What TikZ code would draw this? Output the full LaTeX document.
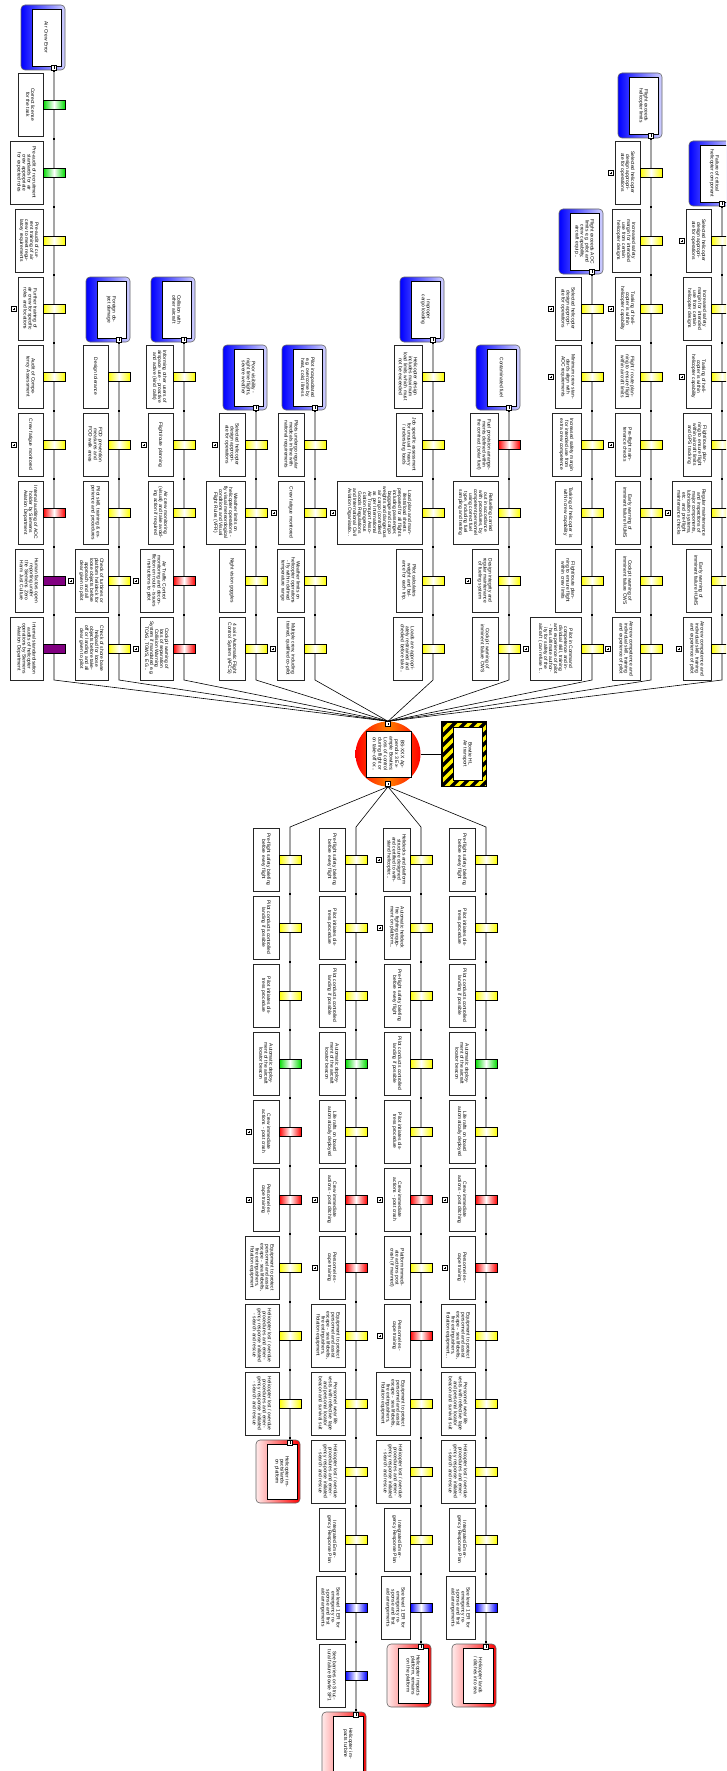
\documentclass[tikz,border=0pt]{standalone}
\usepackage{fontspec}
\setmainfont{Liberation Sans}
\pgfdeclarelayer{bg}
\pgfsetlayers{bg,main}
\definecolor{pur}{RGB}{128,0,128}
\definecolor{grn}{RGB}{0,220,0}
\newcommand{\tf}{\fontsize{4.9}{5}\selectfont}
\tikzset{
  bbox/.style={draw=black!85, fill=white, line width=0.6pt, rotate=-90, minimum width=63pt, text width=55pt, align=center, inner sep=1pt, font=\tf},
  barbase/.style={draw=black, line width=0.5pt, minimum width=22pt, minimum height=9pt, inner sep=0pt},
  barY/.style={barbase, left color=yellow, right color=yellow, middle color=white},
  barG/.style={barbase, left color=grn, right color=grn, middle color=white},
  barR/.style={barbase, left color=red, right color=red, middle color=white},
  barB/.style={barbase, left color=blue, right color=blue, middle color=white},
  barP/.style={barbase, fill=pur},
  plusbox/.style={draw=black, fill=white, line width=0.4pt, minimum size=5pt, inner sep=0pt,
    path picture={\draw[line width=0.5pt] ([xshift=-1.4pt]path picture bounding box.center) -- ([xshift=1.4pt]path picture bounding box.center);
      \draw[line width=0.5pt] ([yshift=-1.4pt]path picture bounding box.center) -- ([yshift=1.4pt]path picture bounding box.center);}},
  expbox/.style={draw=black, fill=white, line width=0.4pt, minimum size=5pt, inner sep=0pt,
    path picture={\draw[line width=0.5pt] ([yshift=-1.4pt]path picture bounding box.center) -- ([yshift=1.4pt]path picture bounding box.center);}},
  thrframe/.style={draw=black!60, line width=0.6pt, rounded corners=4pt, minimum width=44pt, minimum height=65pt, inner sep=0pt, left color=blue, right color=blue!18},
  thrtext/.style={draw=black, fill=white, line width=0.6pt, rotate=-90, minimum width=57pt, minimum height=29pt, text width=50pt, align=center, inner sep=1pt, font=\tf},
  cnqframe/.style={draw=black!60, line width=0.6pt, rounded corners=4pt, minimum width=44pt, minimum height=63pt, inner sep=0pt, left color=red!8, right color=red},
  cnqtext/.style={draw=black, fill=white, line width=0.7pt, rotate=-90, minimum width=55pt, minimum height=30pt, text width=50pt, align=center, inner sep=1pt, font=\tf},
  conn/.style={draw=black, line width=0.6pt},
}
% barrier: name, line x, slot top, bar style, box width, plus flag, text
\newcommand{\mkbar}[7]{%
  \pgfmathsetmacro{\bcx}{#2-11-#5/2}%
  \pgfmathsetmacro{\bcy}{#3+31.5}%
  \pgfmathsetmacro{\bby}{#3+32}%
  \node[bbox, minimum height=#5pt] (#1) at (\bcx,\bcy) {#7};
  \node[#4] (#1-b) at (#2,\bby) {};
  \ifnum#6=1 \pgfmathsetmacro{\bpx}{#2-11-#5-4}\node[plusbox] (#1-p) at (\bpx,\bby) {};\fi
}
% threat: name, line x, slot top, text
\newcommand{\mkthreat}[4]{%
  \pgfmathsetmacro{\tcx}{#2-11}\pgfmathsetmacro{\tcy}{#3+32.5}%
  \pgfmathsetmacro{\tix}{#2-7.5}\pgfmathsetmacro{\tey}{#3+62.5}%
  \node[thrframe] (#1-f) at (\tcx,\tcy) {};
  \node[thrtext] (#1) at (\tix,\tcy) {#4};
  \node[expbox] (#1-x) at (#2,\tey) {};
}
% consequence: name, line x, slot top, text
\newcommand{\mkcnq}[4]{%
  \pgfmathsetmacro{\ccx}{#2-12}\pgfmathsetmacro{\ccy}{#3+31.5}%
  \pgfmathsetmacro{\cix}{#2-8}\pgfmathsetmacro{\cey}{#3+2.5}%
  \node[cnqframe] (#1-f) at (\ccx,\ccy) {};
  \node[cnqtext] (#1) at (\cix,\ccy) {#4};
  \node[expbox] (#1-x) at (#2,\cey) {};
}
\begin{document}
\begin{tikzpicture}[x=1pt,y=-1pt]
\useasboundingbox (0,0) rectangle (726,1771);
\clip (0,0) rectangle (726,1771);

% ---------- top event and hazard ----------
\node[circle, minimum size=65pt, inner sep=0pt, left color=red, right color=red, middle color=orange] (te) at (388,754) {};
\node[rotate=-90, draw=black, fill=white, line width=0.6pt, minimum width=46pt, minimum height=45pt, text width=40pt, align=center, inner sep=1pt, font=\fontsize{5}{5.6}\selectfont] (te-t) at (388.5,754) {BS-XXX Appendix 3 Example Bowties: Loss of control during flight or on take-off or...};
\node[expbox] (te-top) at (388,724) {};
\node[expbox] (te-bot) at (388,784) {};

\node[draw=black, line width=0.8pt, fill=yellow, minimum width=44pt, minimum height=64pt, inner sep=0pt] (hz) at (464,754) {};
\begin{scope}
\clip (hz.south west) rectangle (hz.north east);
\foreach \i in {-9,...,9}{\draw[line width=3.4pt] ({464+\i*10-40},{794}) -- ({464+\i*10+40},{714});}
\end{scope}
\draw[line width=1pt] (hz.south west) rectangle (hz.north east);
\node[rotate=-90, draw=black, fill=white, line width=0.6pt, minimum width=53pt, minimum height=29pt, text width=46pt, align=center, inner sep=1pt, font=\tf] (hz-t) at (467.5,753.5) {Bowtie HL Air transport};

% ---------- threats ----------
\mkthreat{A}{54}{5}{Air Crew Error}
\mkbar{A1}{54}{73}{barG}{25}{0}{Correct license for the task}
\mkbar{A2}{54}{141}{barG}{33}{0}{Pre-audit of recruitment standards for air crew appropriate for expected roles}
\mkbar{A3}{54}{209}{barY}{28}{0}{Pre-audit of current training of air crew to meet regulatory requirements}
\mkbar{A4}{54}{277}{barY}{25}{1}{Further training of air crew for specific roles and locations}
\mkbar{A5}{54}{345}{barY}{25}{0}{Audit of Competency Assessment}
\mkbar{A6}{54}{413}{barY}{25}{1}{Crew fatigue monitored}
\mkbar{A7}{54}{481}{barR}{25}{0}{Internal auditing of AOC holder by Siemens Aviation Department}
\mkbar{A8}{54}{549}{barP}{28}{0}{Human factors open reporting under the Siemens Zero Harm Just Culture}
\mkbar{A9}{54}{617}{barP}{33}{0}{Internal standardisation audits of helicopter operations by Siemens Aviation Department}

\mkthreat{B}{119}{277}{Foreign object damage}
\mkbar{B5}{119}{345}{barY}{25}{0}{Design tolerance}
\mkbar{B6}{119}{413}{barY}{25}{0}{FOD prevention measures and FOD walk areas}
\mkbar{B7}{119}{481}{barY}{25}{0}{Pilot skill, training \& experience and procedures}
\mkbar{B8}{119}{549}{barY}{33}{1}{Check of turbines or platform helideck for loose objects before approach and all clear given to pilot}
\mkbar{B9}{119}{617}{barY}{33}{0}{Check of shore base helipad for loose objects before take-off or landing and all clear given to pilot}

\mkthreat{C}{184}{277}{Collision with other aircraft}
\mkbar{C5}{184}{345}{barY}{27}{0}{Informing other users of airspace use - proactive and active (kind calls)}
\mkbar{C6}{184}{413}{barY}{25}{1}{Flight/route planning}
\mkbar{C7}{184}{481}{barY}{25}{0}{Air crew monitoring (visual) and take avoiding action if required}
\mkbar{C8}{184}{549}{barR}{33}{1}{Air Traffic Control monitoring and deconfliction en route - issues instructions to pilot}
\mkbar{C9}{184}{617}{barR}{33}{1}{Cockpit warning of loss of separation Collision Warning System if mandated e.g. TCAS, TGWS, EG...}

\mkthreat{D}{256}{345}{Poor visibility - night time flights, severe weather}
\mkbar{D6}{256}{413}{barY}{26}{1}{Selected helicopter design appropriate for operations}
\mkbar{D7}{256}{481}{barY}{39}{0}{Weather limits on helicopter operations - fly visual meteorological conditions and Visual Flight Rules (VFR)}
\mkbar{D8}{256}{549}{barY}{26}{0}{Night vision goggles}
\mkbar{D9}{256}{617}{barY}{26}{0}{4 axis Automatic Flight Control System (AFCS)}

\mkthreat{E}{315}{345}{Pilot incapacitated e.g. overcome by heat, cold, illness}
\mkbar{E6}{315}{413}{barY}{26}{0}{Pilots undergo regular medicals in line with national requirements}
\mkbar{E7}{315}{481}{barY}{26}{1}{Crew fatigue monitored}
\mkbar{E8}{315}{549}{barY}{27}{0}{Weather limits on helicopter operations - fly within defined temperature range}
\mkbar{E9}{315}{617}{barY}{27}{1}{Multiple crew, including trained, qualified co-pilot}

\mkthreat{F}{433}{277}{Improper cargo loading}
\mkbar{F5}{433}{345}{barY}{28}{0}{Helicopter design includes maximum load limits which must not be exceeded}
\mkbar{F6}{433}{413}{barY}{26}{0}{Job specific assessment for unusual / heavy / underslung loads}
\mkbar{F7}{433}{481}{barY}{85}{1}{Load plan and manifests/load sheets prepared for all flights including passenger, baggage and cargo weights and dangerous air cargo (controlled as per International Air Transport Association Dangerous Goods Regulations and International Civil Aviation Organisatio...}
\mkbar{F8}{433}{549}{barY}{26}{0}{Pilot calculates weight and balance for each trip.}
\mkbar{F9}{433}{617}{barY}{29}{0}{Loads are appropriately restrained and checked before take...}

\mkthreat{G}{509}{345}{Contaminated fuel}
\mkbar{G6}{509}{413}{barR}{28}{0}{Fuel provision arrangements defined within the contract (solar fuel)}
\mkbar{G7}{509}{481}{barY}{45}{0}{Refuelling carried out in accordance with procedures, by competent personnel using correct fuel type, including fuel sampling and testing}
\mkbar{G8}{509}{549}{barY}{26}{1}{Design integrity and regular maintenance of fueling system}
\mkbar{G9}{509}{617}{barY}{26}{0}{Cockpit warning of imminent failure CWS}

\mkthreat{H}{592}{209}{Flight exceeds AOC limits e.g. pilot and crew capability, aircraft equip...}
\mkbar{H4}{592}{277}{barY}{26}{1}{Selected helicopter design appropriate for operations}
\mkbar{H5}{592}{345}{barY}{26}{1}{Minimum crew standards align with AOC requirements}
\mkbar{H6}{592}{413}{barY}{29}{0}{Increased safety margin for intended use from extra crew competence}
\mkbar{H7}{592}{481}{barY}{26}{0}{Tasking of helicopter is within crew capability}
\mkbar{H8}{592}{549}{barY}{26}{0}{Flight/route planning to ensure flight within crew limits}
\mkbar{H9}{592}{617}{barY}{51}{1}{Pilot in Command competence and individual skill, training and experience of pilot - has ultimate authority for safety of the aircraft ( can refuse t...}

\mkthreat{I}{651}{73}{Flight exceeds helicopter limits}
\mkbar{I2}{651}{141}{barY}{25}{1}{Selected helicopter design appropriate for operations}
\mkbar{I3}{651}{209}{barY}{28}{0}{Increased safety margin for intended use from certain helicopter designs}
\mkbar{I4}{651}{277}{barY}{25}{1}{Tasking of helicopter is within helicopter capability}
\mkbar{I5}{651}{345}{barY}{25}{0}{Flight / route planning to ensure flight within aircraft limits}
\mkbar{I6}{651}{413}{barY}{25}{1}{Pre-flight maintenance checks}
\mkbar{I7}{651}{481}{barY}{25}{0}{Early warning of imminent failure HUMS}
\mkbar{I8}{651}{549}{barY}{25}{0}{Cockpit warning of imminent failure CWS}
\mkbar{I9}{651}{617}{barY}{28}{1}{Aircrew competence and individual skill, training and experience of pilot}

\mkthreat{J}{722}{141}{Failure of critical helicopter component}
\mkbar{J3}{722}{209}{barY}{25}{1}{Selected helicopter design appropriate for operations}
\mkbar{J4}{722}{277}{barY}{28}{0}{Increased safety margin for intended use from certain helicopter designs}
\mkbar{J5}{722}{345}{barY}{25}{1}{Tasking of helicopter is within helicopter capability}
\mkbar{J6}{722}{413}{barY}{28}{0}{Flight/route planning to ensure flight within aircraft limits and GPS tracking}
\mkbar{J7}{722}{481}{barY}{39}{1}{Regular maintenance and inspections of major components, lubrication systems, etc. and pre-flight maintenance checks}
\mkbar{J8}{722}{549}{barY}{25}{0}{Early warning of imminent failure HUMS}
\mkbar{J9}{722}{617}{barY}{28}{1}{Aircrew competence and individual skill, training and experience of pilot}

% ---------- consequences ----------
\mkbar{P0}{290}{828}{barY}{26}{0}{Pre-flight safety briefing before every flight}
\mkbar{P1}{290}{896}{barY}{26}{0}{Pilot conducts controlled landing if possible}
\mkbar{P2}{290}{964}{barY}{26}{0}{Pilot initiates distress procedure}
\mkbar{P3}{290}{1032}{barG}{26}{0}{Automatic deployment of the aircraft locator beacon}
\mkbar{P4}{290}{1100}{barR}{26}{1}{Crew immediate actions - post crash}
\mkbar{P5}{290}{1168}{barR}{26}{1}{Personnel escape training}
\mkbar{P6}{290}{1236}{barY}{34}{0}{Equipment to protect personnel and assist escape - sea lifebelts, fire extinguishers, flotation equipment}
\mkbar{P7}{290}{1304}{barY}{34}{0}{Helicopter lost / overdue procedures and emergency response initiated - search and rescue}
\mkbar{P8}{290}{1372}{barY}{34}{0}{Helicopter lost / overdue procedures and emergency response initiated - search and rescue}
\mkcnq{P}{290}{1440}{Helicopter impacts/lands on platform}

\mkbar{Q0}{356}{828}{barY}{26}{0}{Pre-flight safety briefing before every flight}
\mkbar{Q1}{356}{896}{barY}{26}{0}{Pilot initiates distress procedure}
\mkbar{Q2}{356}{964}{barY}{26}{0}{Pilot conducts controlled landing if possible}
\mkbar{Q3}{356}{1032}{barG}{26}{0}{Automatic deployment of the aircraft locator beacon}
\mkbar{Q4}{356}{1100}{barY}{26}{0}{Life rafts on board automatically deployed}
\mkbar{Q5}{356}{1168}{barR}{26}{1}{Crew immediate actions - post ditching}
\mkbar{Q6}{356}{1236}{barR}{26}{1}{Personnel escape training}
\mkbar{Q7}{356}{1304}{barY}{34}{0}{Equipment to protect personnel and assist escape - sea lifebelts, fire extinguishers, flotation equipment}
\mkbar{Q8}{356}{1372}{barY}{34}{0}{Personnel wear life vests with reflective tape and personal locator beacon and survival suit}
\mkbar{Q9}{356}{1440}{barY}{34}{0}{Helicopter lost / overdue procedures and emergency response initiated - search and rescue}
\mkbar{Q10}{356}{1508}{barY}{26}{0}{Integrated Emergency Response Plan}
\mkbar{Q11}{356}{1576}{barB}{29}{0}{See level 1 ER for emergency response and first aid arrangements}
\mkbar{Q12}{356}{1644}{barB}{26}{0}{See barriers on Structural failure Bowtie SF1}
\mkcnq{Q}{356}{1712}{Helicopter impacts turbine}

\mkbar{R0}{421}{828}{barY}{27}{1}{Helidecks and platform structure designed and certified to withstand helicopter...}
\mkbar{R1}{421}{896}{barY}{26}{1}{Automatic helideck fire fighting equipment on platform...}
\mkbar{R2}{421}{964}{barY}{26}{0}{Pre-flight safety briefing before every flight}
\mkbar{R3}{421}{1032}{barY}{26}{0}{Pilot conducts controlled landing if possible}
\mkbar{R4}{421}{1100}{barY}{26}{0}{Pilot initiates distress procedure}
\mkbar{R5}{421}{1168}{barR}{26}{1}{Crew immediate actions - post crash}
\mkbar{R6}{421}{1236}{barY}{26}{0}{Platform immediate actions post crash (if manned)}
\mkbar{R7}{421}{1304}{barR}{26}{1}{Personnel escape training}
\mkbar{R8}{421}{1372}{barY}{34}{0}{Equipment to protect personnel and assist escape - sea lifebelts, fire extinguishers, flotation equipment}
\mkbar{R9}{421}{1440}{barY}{34}{0}{Helicopter lost / overdue procedures and emergency response initiated - search and rescue}
\mkbar{R10}{421}{1508}{barY}{26}{0}{Integrated Emergency Response Plan}
\mkbar{R11}{421}{1576}{barB}{29}{0}{See level 1 ER for emergency response and first aid arrangements}
\mkcnq{R}{421}{1644}{Helicopter impacts platform, remains on the platform}

\mkbar{S0}{486}{828}{barY}{26}{0}{Pre-flight safety briefing before every flight}
\mkbar{S1}{486}{896}{barY}{26}{0}{Pilot initiates distress procedure}
\mkbar{S2}{486}{964}{barY}{26}{0}{Pilot conducts controlled landing if possible}
\mkbar{S3}{486}{1032}{barG}{26}{0}{Automatic deployment of the aircraft locator beacon}
\mkbar{S4}{486}{1100}{barY}{26}{0}{Life rafts on board automatically deployed}
\mkbar{S5}{486}{1168}{barR}{26}{1}{Crew immediate actions - post ditching}
\mkbar{S6}{486}{1236}{barR}{26}{1}{Personnel escape training}
\mkbar{S7}{486}{1304}{barY}{34}{0}{Equipment to protect personnel and assist escape - sea lifebelts, fire extinguishers, flotation equipment...}
\mkbar{S8}{486}{1372}{barY}{34}{0}{Personnel wear life vests with reflective tape and personal locator beacon and survival suit}
\mkbar{S9}{486}{1440}{barY}{34}{0}{Helicopter lost / overdue procedures and emergency response initiated - search and rescue}
\mkbar{S10}{486}{1508}{barY}{26}{0}{Integrated Emergency Response Plan}
\mkbar{S11}{486}{1576}{barB}{29}{0}{See level 1 ER for emergency response and first aid arrangements}
\mkcnq{S}{486}{1644}{Helicopter lands / ditches into sea}

% ---------- connectors ----------
\begin{pgfonlayer}{bg}
\fill[white] (0,0) rectangle (726,1771);
\draw[conn] (te) -- (hz);
\foreach \n/\L in {A/54,B/119,C/184,D/256,E/315,F/433,G/509,H/592,I/651,J/722}{
  \coordinate (\n-end) at (\L,680);
  \draw[conn] (\n-x) -- (\n-end) -- (te-top.north);
}
\foreach \n/\L in {P/290,Q/356,R/421,S/486}{
  \coordinate (\n-beg) at (\L,827);
  \draw[conn] (te-bot.south) -- (\n-beg) -- (\n-x);
}
\foreach \L/\a in {54/1,119/5,184/5,256/6,315/6,433/5,509/6,592/4,651/2,722/3}{
  \foreach \k in {\a,...,9}{\fill ({\L-1.3},{3+68*\k-0.8}) rectangle ({\L+1.3},{3+68*\k+0.8});}
}
\foreach \L/\m in {290/9,356/13,421/12,486/12}{
  \foreach \k in {1,...,\m}{\fill ({\L-1.3},{826+68*\k-0.8}) rectangle ({\L+1.3},{826+68*\k+0.8});}
}
\end{pgfonlayer}
\end{tikzpicture}
\end{document}
